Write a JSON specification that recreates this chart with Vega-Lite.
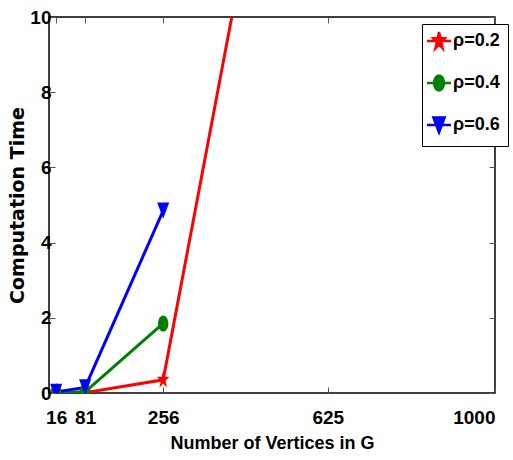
{
  "$schema": "https://vega.github.io/schema/vega-lite/v6.json",
  "width": 446,
  "height": 376,
  "autosize": {"type": "none"},
  "padding": {"left": 49, "top": 17, "right": 18, "bottom": 67},
  "background": "white",
  "config": {
    "view": {"stroke": "black", "strokeWidth": 1.5},
    "font": "Liberation Sans, Arial, sans-serif",
    "axis": {
      "grid": false,
      "domain": false,
      "tickSize": -6,
      "tickColor": "#555555",
      "tickWidth": 1,
      "labelFont": "Liberation Sans, Arial, sans-serif",
      "labelFontSize": 19,
      "labelFontWeight": "bold",
      "labelColor": "black",
      "titleColor": "black",
      "titleFontWeight": "bold",
      "format": "d"
    },
    "legend": {
      "title": null,
      "orient": "none",
      "legendX": 373,
      "legendY": 7,
      "padding": 8,
      "strokeColor": "black",
      "fillColor": "white",
      "rowPadding": 16,
      "symbolSize": 225,
      "symbolStrokeWidth": 2.5,
      "labelFontSize": 18,
      "labelFontWeight": "bold",
      "labelFont": "Liberation Sans, Arial, sans-serif",
      "labelColor": "black",
      "labelOffset": 5
    }
  },
  "data": {
    "values": [
      {"series": "ρ=0.2", "n": 16, "t": 0.02},
      {"series": "ρ=0.2", "n": 81, "t": 0.01},
      {"series": "ρ=0.2", "n": 256, "t": 0.35},
      {"series": "ρ=0.2", "n": 625, "t": 23.5},
      {"series": "ρ=0.4", "n": 16, "t": 0.02},
      {"series": "ρ=0.4", "n": 81, "t": 0.03},
      {"series": "ρ=0.4", "n": 256, "t": 1.85},
      {"series": "ρ=0.6", "n": 16, "t": 0.03},
      {"series": "ρ=0.6", "n": 81, "t": 0.15},
      {"series": "ρ=0.6", "n": 256, "t": 4.85}
    ]
  },
  "layer": [
    {
      "mark": {"type": "line", "strokeWidth": 3, "clip": true},
      "encoding": {
        "x": {
          "field": "n", "type": "quantitative",
          "scale": {"domain": [0, 1000]},
          "axis": {
            "orient": "bottom",
            "values": [16, 81, 256, 625, 1000],
            "labelPadding": 21,
            "title": "Number of Vertices in G",
            "titleFont": "Liberation Sans, Arial, sans-serif",
            "titleFontSize": 18,
            "titlePadding": 7
          }
        },
        "y": {
          "field": "t", "type": "quantitative",
          "scale": {"domain": [0, 10]},
          "axis": {
            "orient": "left",
            "values": [0, 2, 4, 6, 8, 10],
            "labelPadding": 4,
            "title": "Computation Time",
            "titleFont": "DejaVu Sans",
            "titleFontSize": 19,
            "titlePadding": 2
          }
        },
        "color": {
          "field": "series", "type": "nominal",
          "scale": {"domain": ["ρ=0.2", "ρ=0.4", "ρ=0.6"], "range": ["#ff0000", "#008000", "#0000ff"]}
        }
      }
    },
    {
      "mark": {"type": "point", "filled": true, "size": 260, "opacity": 1, "clip": true},
      "encoding": {
        "x": {
          "field": "n", "type": "quantitative",
          "scale": {"domain": [0, 1000]},
          "axis": {"orient": "top", "values": [16, 81, 256, 625, 1000], "labels": false, "title": null}
        },
        "y": {
          "field": "t", "type": "quantitative",
          "scale": {"domain": [0, 10]},
          "axis": {"orient": "right", "values": [0, 2, 4, 6, 8, 10], "labels": false, "title": null}
        },
        "color": {
          "field": "series", "type": "nominal",
          "scale": {"domain": ["ρ=0.2", "ρ=0.4", "ρ=0.6"], "range": ["#ff0000", "#008000", "#0000ff"]}
        },
        "stroke": {
          "field": "series", "type": "nominal",
          "scale": {"domain": ["ρ=0.2", "ρ=0.4", "ρ=0.6"], "range": ["#ff0000", "#008000", "#0000ff"]}
        },
        "strokeWidth": {"value": 0},
        "shape": {
          "field": "series", "type": "nominal",
          "scale": {
            "domain": ["ρ=0.2", "ρ=0.4", "ρ=0.6"],
            "range": [
              "M-1.6,0H1.6M0,-1.2L0.18,-0.371L0.761,-0.371L0.291,0.142L0.47,0.971L0,0.458L-0.47,0.971L-0.291,0.142L-0.761,-0.371L-0.18,-0.371Z",
              "M-1.6,0H1.6M0,-1A0.65,1 0 1,1 0,1A0.65,1 0 1,1 0,-1Z",
              "M-1.6,0H1.6M-0.75,-1L0.75,-1L0,1Z"
            ]
          }
        }
      }
    }
  ],
  "resolve": {"axis": {"x": "independent", "y": "independent"}}
}
